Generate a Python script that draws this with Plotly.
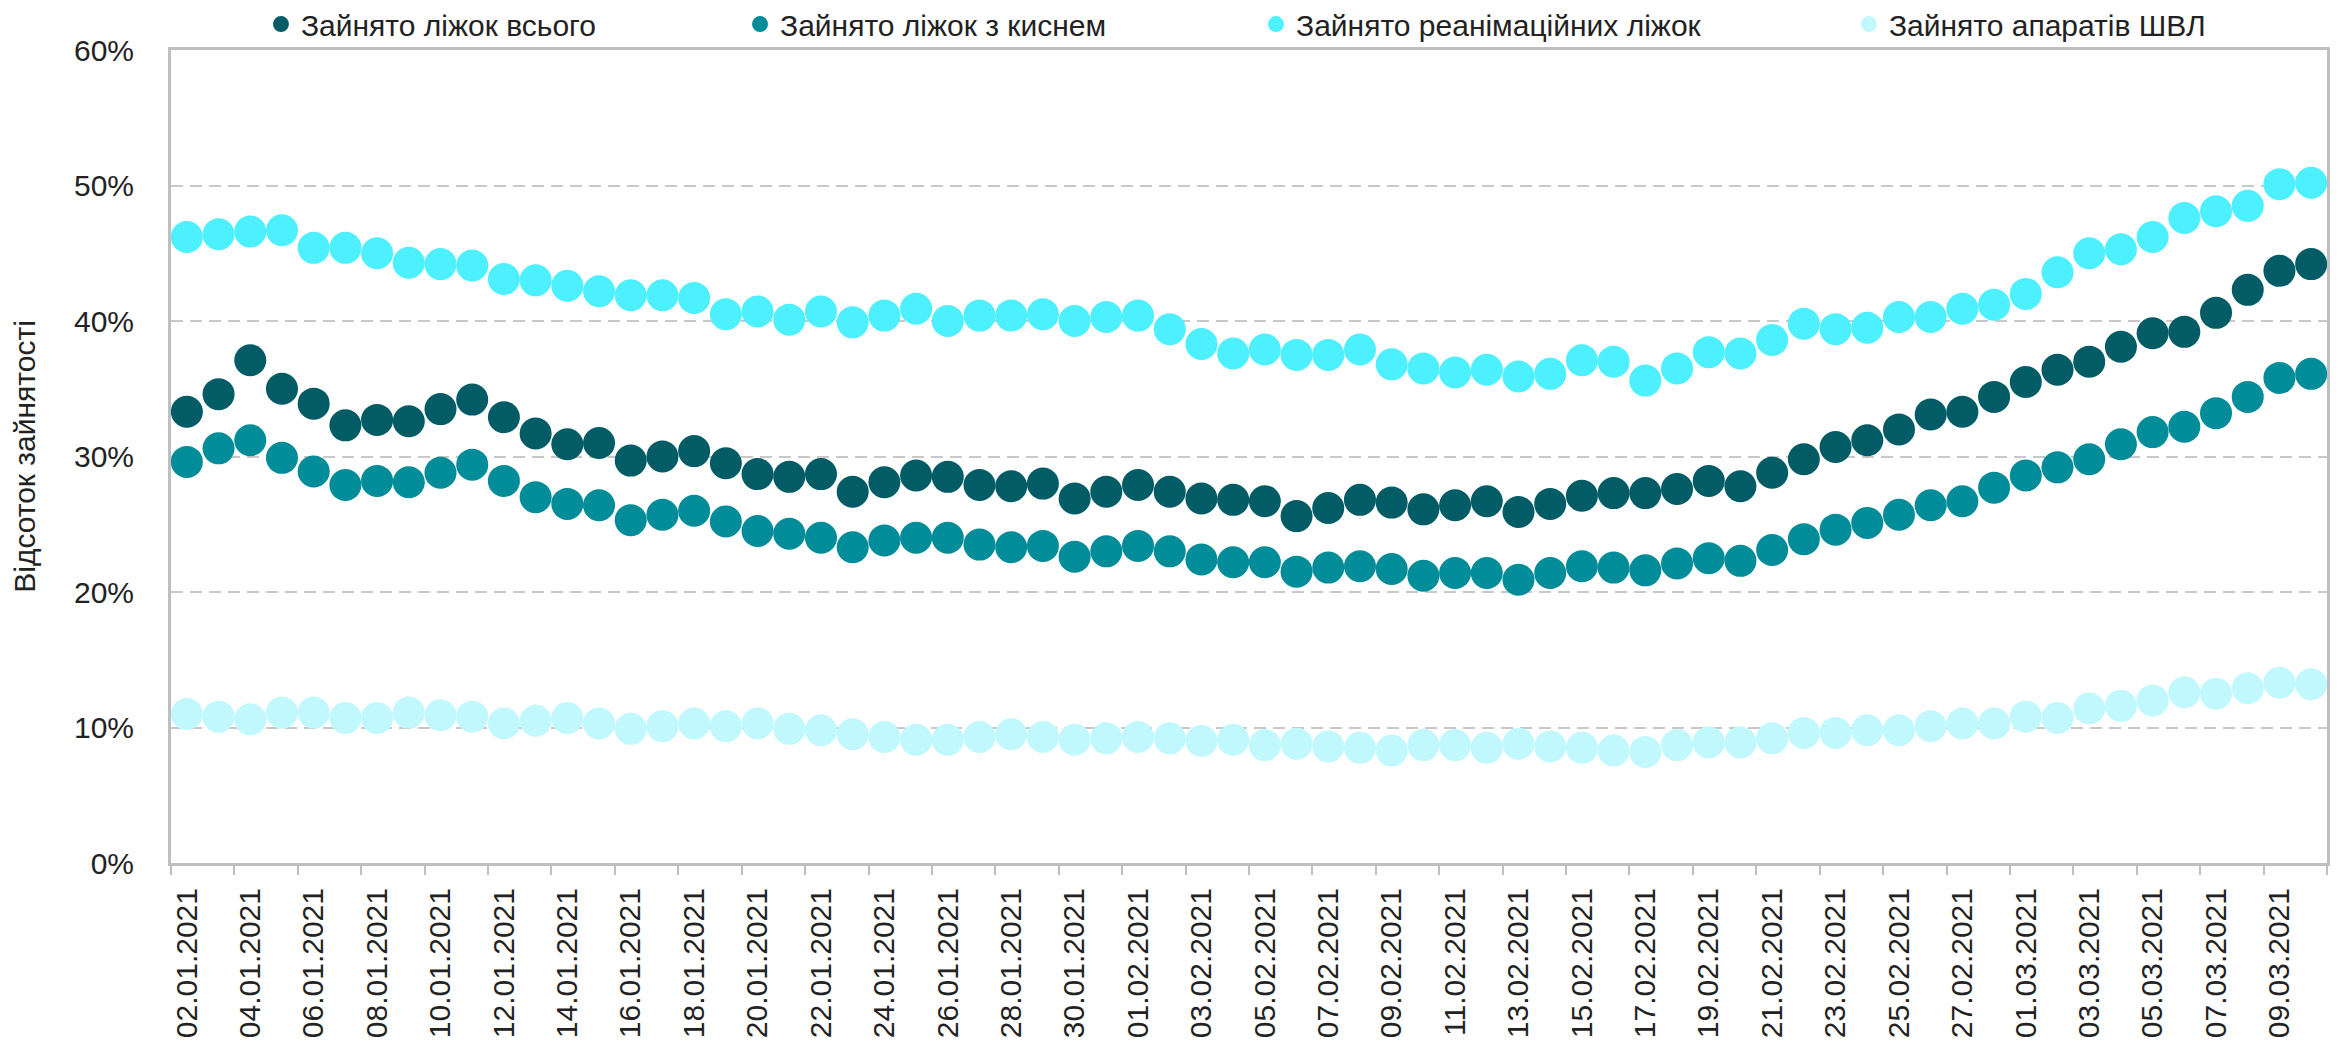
import plotly.graph_objects as go

dates = [
    "02.01.2021", "03.01.2021", "04.01.2021", "05.01.2021", "06.01.2021", "07.01.2021", "08.01.2021",
    "09.01.2021", "10.01.2021", "11.01.2021", "12.01.2021", "13.01.2021", "14.01.2021", "15.01.2021",
    "16.01.2021", "17.01.2021", "18.01.2021", "19.01.2021", "20.01.2021", "21.01.2021", "22.01.2021",
    "23.01.2021", "24.01.2021", "25.01.2021", "26.01.2021", "27.01.2021", "28.01.2021", "29.01.2021",
    "30.01.2021", "31.01.2021", "01.02.2021", "02.02.2021", "03.02.2021", "04.02.2021", "05.02.2021",
    "06.02.2021", "07.02.2021", "08.02.2021", "09.02.2021", "10.02.2021", "11.02.2021", "12.02.2021",
    "13.02.2021", "14.02.2021", "15.02.2021", "16.02.2021", "17.02.2021", "18.02.2021", "19.02.2021",
    "20.02.2021", "21.02.2021", "22.02.2021", "23.02.2021", "24.02.2021", "25.02.2021", "26.02.2021",
    "27.02.2021", "28.02.2021", "01.03.2021", "02.03.2021", "03.03.2021", "04.03.2021", "05.03.2021",
    "06.03.2021", "07.03.2021", "08.03.2021", "09.03.2021", "10.03.2021",
]

beds_total = [
    33.3, 34.6, 37.1, 35.0, 33.9, 32.3, 32.7, 32.6, 33.5, 34.2, 32.9, 31.7, 30.9, 31.0,
    29.7, 30.0, 30.4, 29.5, 28.7, 28.5, 28.7, 27.4, 28.1, 28.6, 28.5, 27.9, 27.8, 28.0,
    26.9, 27.4, 27.9, 27.4, 26.9, 26.8, 26.7, 25.6, 26.2, 26.8, 26.6, 26.1, 26.4, 26.7,
    25.9, 26.5, 27.1, 27.3, 27.3, 27.6, 28.2, 27.8, 28.8, 29.8, 30.7, 31.2, 32.0, 33.1,
    33.3, 34.4, 35.5, 36.4, 37.0, 38.1, 39.1, 39.2, 40.6, 42.3, 43.7, 44.2,
]

beds_oxygen = [
    29.6, 30.6, 31.2, 29.9, 28.9, 27.9, 28.2, 28.1, 28.8, 29.4, 28.2, 27.0, 26.5, 26.4,
    25.3, 25.7, 26.0, 25.2, 24.5, 24.3, 24.0, 23.3, 23.8, 24.0, 24.0, 23.5, 23.3, 23.4,
    22.6, 23.0, 23.4, 23.0, 22.4, 22.2, 22.2, 21.5, 21.8, 21.9, 21.7, 21.2, 21.4, 21.4,
    20.9, 21.4, 21.9, 21.8, 21.6, 22.1, 22.5, 22.3, 23.1, 23.9, 24.6, 25.1, 25.7, 26.4,
    26.7, 27.7, 28.6, 29.2, 29.8, 30.9, 31.8, 32.2, 33.2, 34.4, 35.8, 36.1,
]

beds_icu = [
    46.2, 46.4, 46.6, 46.7, 45.4, 45.4, 45.0, 44.3, 44.2, 44.1, 43.1, 43.0, 42.6, 42.2,
    41.9, 41.9, 41.7, 40.5, 40.7, 40.1, 40.7, 39.9, 40.4, 40.9, 40.0, 40.4, 40.4, 40.5,
    40.0, 40.3, 40.4, 39.4, 38.3, 37.6, 37.9, 37.5, 37.5, 37.9, 36.8, 36.5, 36.2, 36.4,
    35.9, 36.1, 37.1, 37.0, 35.6, 36.5, 37.7, 37.6, 38.6, 39.8, 39.4, 39.5, 40.3, 40.3,
    40.9, 41.2, 42.0, 43.6, 45.0, 45.3, 46.2, 47.6, 48.1, 48.5, 50.1, 50.2,
]

ventilators = [
    11.0, 10.8, 10.6, 11.1, 11.1, 10.7, 10.7, 11.1, 10.9, 10.8, 10.3, 10.5, 10.7, 10.3,
    9.9, 10.1, 10.3, 10.1, 10.3, 9.9, 9.8, 9.5, 9.3, 9.1, 9.1, 9.3, 9.5, 9.3,
    9.1, 9.2, 9.3, 9.2, 9.0, 9.1, 8.7, 8.8, 8.6, 8.5, 8.3, 8.7, 8.7, 8.5,
    8.8, 8.6, 8.5, 8.3, 8.2, 8.7, 8.9, 8.9, 9.2, 9.6, 9.6, 9.8, 9.8, 10.1,
    10.3, 10.3, 10.8, 10.7, 11.4, 11.6, 12.0, 12.6, 12.5, 12.9, 13.3, 13.2,
]

series_names = [
    "Зайнято ліжок всього",
    "Зайнято ліжок з киснем",
    "Зайнято реанімаційних ліжок",
    "Зайнято апаратів ШВЛ",
]
y_ticks = [0, 10, 20, 30, 40, 50, 60]
y_tick_labels = ["0%", "10%", "20%", "30%", "40%", "50%", "60%"]
axis_title = "Відсоток зайнятості"

colors = ["#015C66", "#008C99", "#4CF0FF", "#C0F8FE"]
legend_ids = ["legend", "legend2", "legend3", "legend4"]
legend_x = [0.1082, 0.3131, 0.5338, 0.7874]

FONT = "Liberation Sans, Arial, sans-serif"
TXT = "#222222"
AX = "#BFBFBF"

fig = go.Figure()
for name, vals, col, lg in zip(series_names,
                               [beds_total, beds_oxygen, beds_icu, ventilators],
                               colors, legend_ids):
    fig.add_trace(go.Scatter(
        x=dates, y=vals, name=name, mode="markers",
        marker=dict(size=32, color=col, line=dict(width=0)),
        legend=lg,
    ))

legend_common = dict(
    orientation="h", xref="container", yref="container",
    yanchor="middle", xanchor="left", y=0.9845,
    font=dict(family=FONT, size=30, color=TXT),
    bgcolor="rgba(0,0,0,0)", borderwidth=0, itemwidth=30,
)
layout_legends = {}
for lg, lx in zip(legend_ids, legend_x):
    layout_legends[lg] = dict(legend_common, x=lx)

fig.update_layout(
    width=2338, height=1036,
    margin=dict(l=163, r=19, t=42, b=181, pad=0, autoexpand=False),
    paper_bgcolor="white", plot_bgcolor="white",
    font=dict(family=FONT, size=30, color=TXT),
    showlegend=True,
    **layout_legends,
)

fig.update_xaxes(
    type="category", range=[-0.5, len(dates) - 0.5],
    tickmode="linear", tick0=0, dtick=2, tickson="boundaries",
    tickangle=-90, ticks="outside", ticklen=9, tickwidth=2, tickcolor=AX,
    ticklabelstandoff=10,
    tickfont=dict(family=FONT, size=30, color=TXT),
    showline=True, linecolor=AX, linewidth=3, mirror=True,
    showgrid=False, zeroline=False,
)
fig.update_yaxes(
    range=[0, 60], tickmode="array", tickvals=y_ticks, ticktext=y_tick_labels,
    ticks="", ticklabelstandoff=28,
    tickfont=dict(family=FONT, size=30, color=TXT),
    showline=True, linecolor=AX, linewidth=3, mirror=True,
    showgrid=True, gridcolor="#C8C8C8", gridwidth=2, griddash="12px,7px",
    zeroline=False,
    title=dict(text=axis_title, font=dict(family=FONT, size=30, color=TXT), standoff=35),
)

fig.write_html("out.html")
